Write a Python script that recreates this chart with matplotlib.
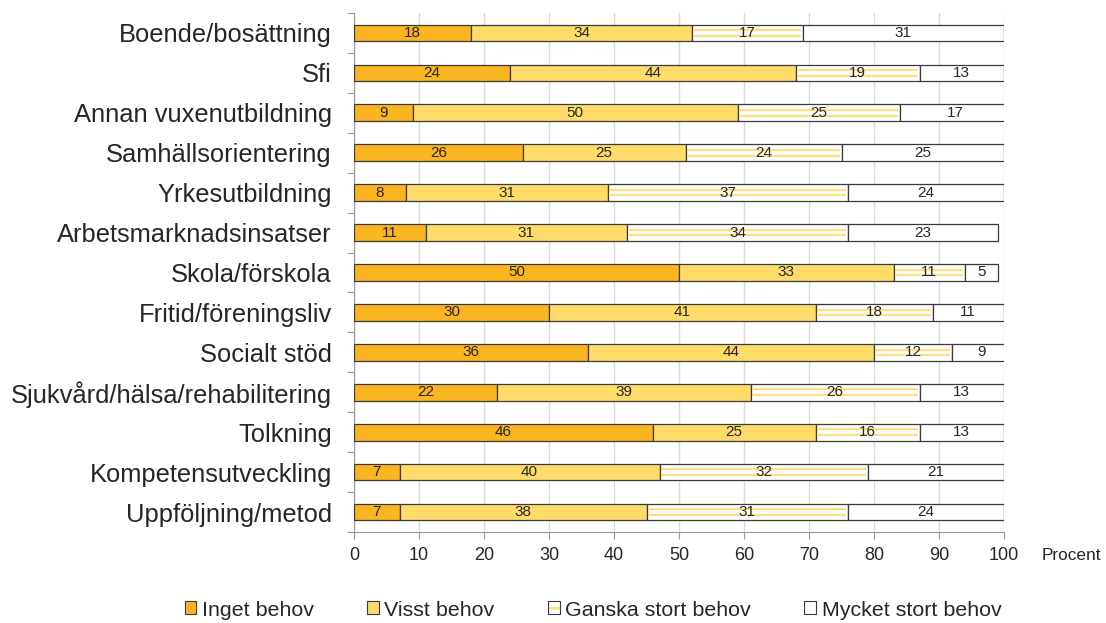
import matplotlib
matplotlib.use("Agg")
import matplotlib.pyplot as plt
import numpy as np
from matplotlib.patches import Patch
from matplotlib.legend_handler import HandlerTuple

plt.rcParams['font.family'] = ['Liberation Sans', 'DejaVu Sans']
plt.rcParams['hatch.linewidth'] = 2.0

categories = ["Boende/bosättning", "Sfi", "Annan vuxenutbildning", "Samhällsorientering",
              "Yrkesutbildning", "Arbetsmarknadsinsatser", "Skola/förskola",
              "Fritid/föreningsliv", "Socialt stöd", "Sjukvård/hälsa/rehabilitering",
              "Tolkning", "Kompetensutveckling", "Uppföljning/metod"]
inget = [18, 24, 9, 26, 8, 11, 50, 30, 36, 22, 46, 7, 7]
visst = [34, 44, 50, 25, 31, 31, 33, 41, 44, 39, 25, 40, 38]
ganska = [17, 19, 25, 24, 37, 34, 11, 18, 12, 26, 16, 32, 31]
mycket = [31, 13, 17, 25, 24, 23, 5, 11, 9, 13, 13, 21, 24]
series_names = ["Inget behov", "Visst behov", "Ganska stort behov", "Mycket stort behov"]
xticks = list(range(0, 101, 10))

ORANGE = "#FBB521"
YELLOW = "#FFDC6A"
LINEY = "#FFDF80"
EDGE = "#3a3a3a"
TXT = "#262626"

fig = plt.figure(figsize=(11.06, 6.23), dpi=100)
ax = fig.add_axes([354/1106, 1-532/623, 650/1106, 519/623])

y = np.arange(len(categories))
h = 0.42
data = [inget, visst, ganska, mycket]
fills = [ORANGE, YELLOW, "white", "white"]
left = np.zeros(len(categories))
for k, (vals, fc) in enumerate(zip(data, fills)):
    vals = np.array(vals, dtype=float)
    ax.barh(y, vals, left=left, height=h, color=fc, edgecolor=EDGE, linewidth=0.9, zorder=3)
    if k == 2:
        for dy in (-0.07, 0.07):
            ax.hlines(y + dy, left + 0.25, left + vals - 0.25, color=LINEY, lw=1.6, zorder=3.5)
    for yi, l, v in zip(y, left, vals):
        ax.text(l + v/2, yi, f"{int(v)}", ha="center", va="center", fontsize=11,
                color=TXT, zorder=4)
    left = left + vals

ax.set_ylim(len(categories) - 0.5, -0.5)
ax.set_xlim(0, 100)
ax.set_xticks(xticks)
ax.set_xticklabels([str(t) for t in xticks], fontsize=13, color=TXT)
ax.set_yticks(np.arange(-0.5, len(categories), 1), minor=False)
ax.set_yticklabels([])
ax.set_yticks(y, minor=True)
ax.set_yticklabels(categories, minor=True, fontsize=18.4, color=TXT)
ax.tick_params(axis='y', which='minor', length=0, pad=16)
ax.tick_params(axis='y', which='major', length=5, direction='out', color="#999999")
ax.tick_params(axis='x', length=5, direction='out', color="#999999", pad=6)
ax.grid(axis='x', color="#d9d9d9", lw=1, zorder=0)
for s in ['top', 'right']:
    ax.spines[s].set_visible(False)
for s in ['left', 'bottom']:
    ax.spines[s].set_color("#999999")

fig.text(1042/1106, 1-556/623, "Procent", fontsize=12.4, color=TXT, va="center", ha="left")

handles = [
    Patch(facecolor=ORANGE, edgecolor=EDGE, lw=0.8),
    Patch(facecolor=YELLOW, edgecolor=EDGE, lw=0.8),
    (Patch(facecolor="white", edgecolor=LINEY, lw=0, hatch='-'),
     Patch(fill=False, edgecolor=EDGE, lw=0.8)),
    Patch(facecolor="white", edgecolor=EDGE, lw=0.8),
]
fig.legend(handles, series_names, loc="center", bbox_to_anchor=(593/1106, 1-610/623), ncol=4,
           frameon=False, fontsize=15.4, handlelength=0.55, handleheight=0.55,
           handletextpad=0.25, columnspacing=2.5, labelcolor=TXT,
           handler_map={tuple: HandlerTuple(ndivide=1, pad=0)})

fig.savefig("out.png", dpi=100)
